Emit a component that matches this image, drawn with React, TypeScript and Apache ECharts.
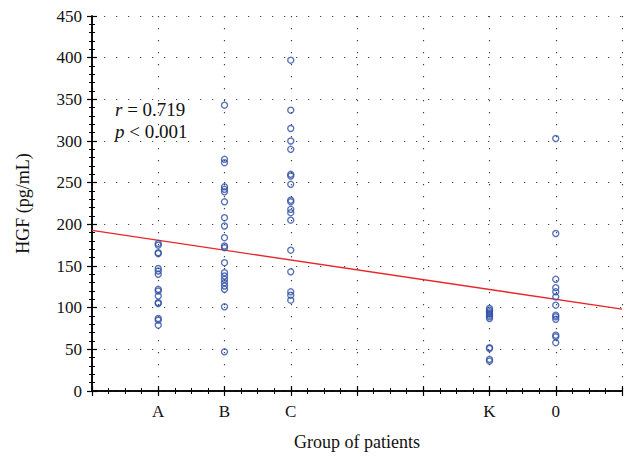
import React, { useEffect, useRef } from "react";
import * as echarts from "echarts";

const groupLabels: Record<number, string> = { 1: "A", 2: "B", 3: "C", 6: "K", 7: "0" };
const groupA = [177, 175, 166, 165, 147, 144, 140, 122, 120, 114, 106, 105, 87, 85, 79];
const groupB = [343, 278, 274, 245, 242, 239, 227, 208, 198, 184, 174, 172, 154, 142, 138, 134, 130, 126, 122, 101, 47];
const groupC = [397, 337, 315, 300, 290, 260, 258, 248, 229, 227, 218, 214, 205, 169, 143, 119, 115, 109];
const groupK = [99, 97, 95, 93, 91, 89, 87, 52, 51, 38, 36];
const group0 = [303, 189, 134, 124, 119, 113, 103, 91, 89, 86, 67, 65, 58];
const groupPositions = [1, 2, 3, 6, 7];
const regressionLine = [
  [0, 192.7],
  [8, 98.2],
];

const FONT = "'Liberation Serif', 'DejaVu Serif', serif";

export default function App() {
  const ref = useRef<HTMLDivElement>(null);
  useEffect(() => {
    if (!ref.current) return;
    const chart = echarts.init(ref.current, undefined, { renderer: "svg" });
    const groups = [groupA, groupB, groupC, groupK, group0];
    const points: number[][] = [];
    groups.forEach((g, i) => g.forEach((v) => points.push([groupPositions[i], v])));

    const dotted = { color: "#444", width: 1.2, type: [1.2, 10.8] as any };
    const common = {
      axisLine: { show: true, lineStyle: { color: "#000", width: 1.5 } },
      axisTick: { show: true, inside: true, length: 5, lineStyle: { color: "#000", width: 1.2 } },
      minorTick: { show: true, length: 3, lineStyle: { color: "#000", width: 1 } },
    };

    chart.setOption({
      animation: false,
      grid: { left: 92, right: 4, top: 16, bottom: 66, containLabel: false },
      xAxis: [
        {
          type: "value",
          min: 0,
          max: 8,
          interval: 1,
          ...common,
          minorTick: { ...common.minorTick, splitNumber: 4 },
          splitLine: { show: true, lineStyle: dotted },
          axisLabel: {
            formatter: (v: number) => groupLabels[v] ?? "",
            fontFamily: FONT,
            fontSize: 17,
            color: "#111",
            margin: 12,
          },
          name: "Group of patients",
          nameLocation: "middle",
          nameGap: 42,
          nameTextStyle: { fontFamily: FONT, fontSize: 18, color: "#111" },
        },
        {
          type: "value",
          position: "top",
          min: 0,
          max: 8,
          interval: 1,
          ...common,
          minorTick: { ...common.minorTick, splitNumber: 4 },
          splitLine: { show: false },
          axisLabel: { show: false },
        },
      ],
      yAxis: [
        {
          type: "value",
          min: 0,
          max: 450,
          interval: 50,
          ...common,
          minorTick: { ...common.minorTick, splitNumber: 5 },
          splitLine: { show: true, lineStyle: dotted },
          axisLabel: { fontFamily: FONT, fontSize: 17, color: "#111", margin: 10 },
          name: "HGF (pg/mL)",
          nameLocation: "middle",
          nameGap: 60,
          nameRotate: 90,
          nameTextStyle: { fontFamily: FONT, fontSize: 18, color: "#111" },
        },
        {
          type: "value",
          position: "right",
          min: 0,
          max: 450,
          interval: 50,
          ...common,
          minorTick: { ...common.minorTick, splitNumber: 5 },
          splitLine: { show: false },
          axisLabel: { show: false },
        },
      ],
      series: [
        {
          type: "line",
          data: regressionLine,
          showSymbol: false,
          symbol: "none",
          lineStyle: { color: "#e8262a", width: 1.3 },
          silent: true,
          z: 3,
        },
        {
          type: "scatter",
          data: points,
          symbol: "circle",
          symbolSize: 6,
          itemStyle: { color: "rgba(255,255,255,0)", borderColor: "#2e4fa6", borderWidth: 1.4 },
          z: 4,
        },
      ],
      graphic: [
        {
          type: "text",
          left: 115,
          top: 98,
          style: {
            text: "{i|r} = 0.719\n{i|p} < 0.001",
            fontFamily: FONT,
            fontSize: 19,
            lineHeight: 22,
            fill: "#111",
            rich: {
              i: { fontStyle: "italic", fontFamily: FONT, fontSize: 19 },
            },
          },
        },
      ],
    });
    return () => chart.dispose();
  }, []);
  return (
    <div
      ref={ref}
      style={{ position: "absolute", left: 0, top: 0, width: 626, height: 457 }}
    />
  );
}
